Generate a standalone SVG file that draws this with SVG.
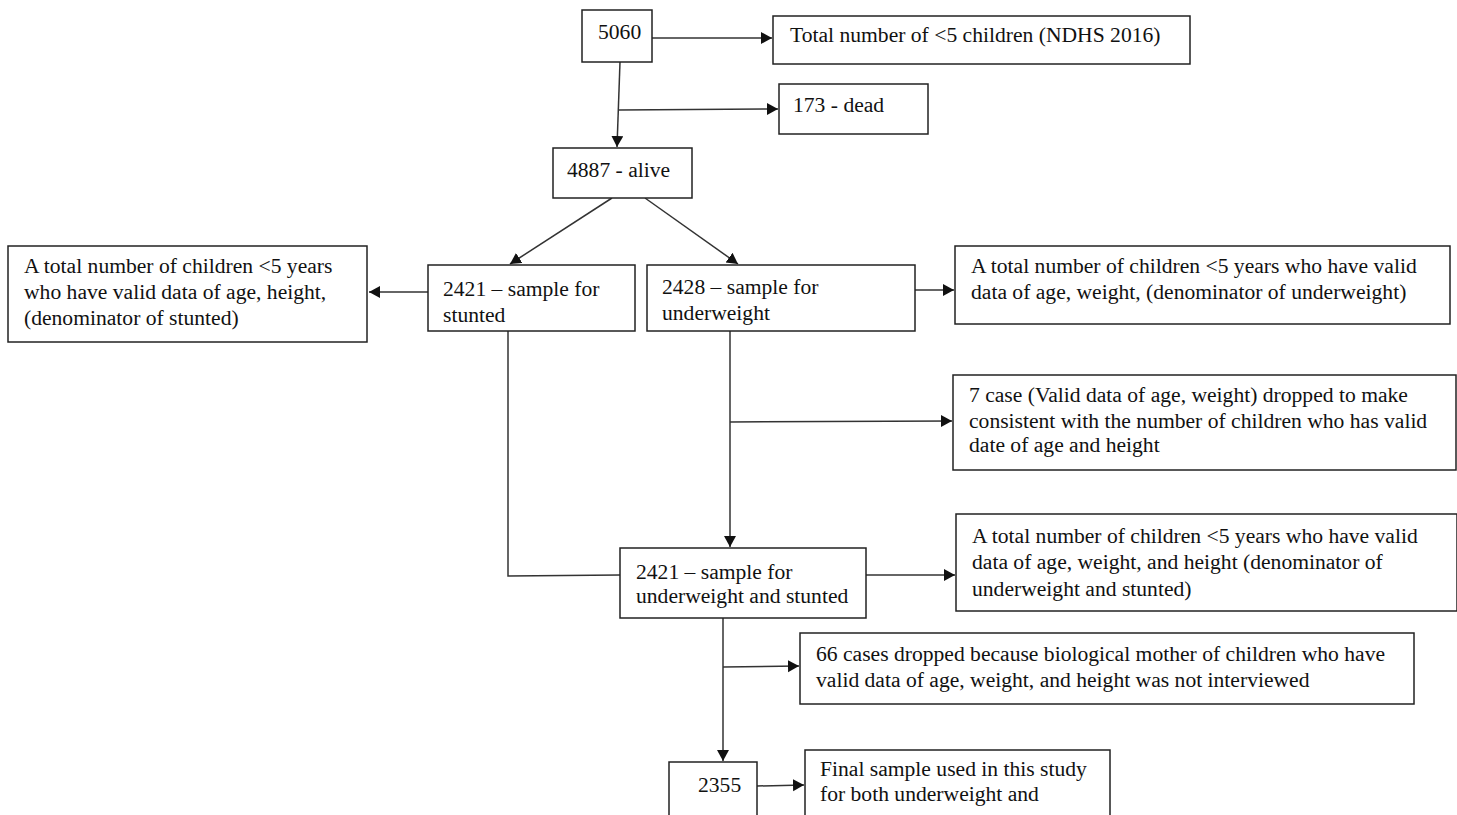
<svg xmlns="http://www.w3.org/2000/svg" width="1457" height="815" viewBox="0 0 1457 815">
<style>
.box{fill:#fff;stroke:#222;stroke-width:1.5}
.t{font-family:"Liberation Serif","Times New Roman",serif;font-size:21.6px;fill:#111}
.c{fill:none;stroke:#333;stroke-width:1.5}
</style>
<defs>
<marker id="ah" markerWidth="13" markerHeight="13" refX="11" refY="6" orient="auto" markerUnits="userSpaceOnUse">
<path d="M0,0 L11,6 L0,12 Z" fill="#111"/>
</marker>
</defs>
<rect width="1457" height="815" fill="#fff"/>
<g id="connectors">
<line class="c" x1="652" y1="38" x2="772" y2="38" marker-end="url(#ah)"/>
<line class="c" x1="620" y1="62" x2="617" y2="147" marker-end="url(#ah)"/>
<line class="c" x1="619" y1="110" x2="778" y2="109" marker-end="url(#ah)"/>
<line class="c" x1="612" y1="198" x2="510" y2="264" marker-end="url(#ah)"/>
<line class="c" x1="645" y1="198" x2="738" y2="264" marker-end="url(#ah)"/>
<line class="c" x1="428" y1="292" x2="369" y2="292" marker-end="url(#ah)"/>
<line class="c" x1="908" y1="290" x2="954" y2="290" marker-end="url(#ah)"/>
<line class="c" x1="730" y1="331" x2="730" y2="547" marker-end="url(#ah)"/>
<line class="c" x1="730" y1="422" x2="952" y2="421" marker-end="url(#ah)"/>
<polyline class="c" points="508,331 508,576 620,575"/>
<line class="c" x1="866" y1="575" x2="955" y2="575" marker-end="url(#ah)"/>
<line class="c" x1="723" y1="618" x2="723" y2="761" marker-end="url(#ah)"/>
<line class="c" x1="723" y1="667" x2="799" y2="666" marker-end="url(#ah)"/>
<line class="c" x1="757" y1="786" x2="804" y2="785" marker-end="url(#ah)"/>
</g>
<g id="n5060"><rect class="box" x="582" y="10" width="70" height="52"/><text class="t" x="598" y="39">5060</text></g>
<g id="ntotal"><rect class="box" x="773" y="16" width="417" height="48"/><text class="t" x="790" y="42">Total number of &lt;5 children (NDHS 2016)</text></g>
<g id="ndead"><rect class="box" x="779" y="84" width="149" height="50"/><text class="t" x="793" y="112">173 - dead</text></g>
<g id="nalive"><rect class="box" x="553" y="148" width="139" height="50"/><text class="t" x="567" y="177">4887 - alive</text></g>
<g id="nstunted"><rect class="box" x="428" y="265" width="207" height="66"/><text class="t" x="443" y="296">2421 – sample for</text><text class="t" x="443" y="322">stunted</text></g>
<g id="nstuntedden"><rect class="box" x="8" y="246" width="359" height="96"/><text class="t" x="24" y="273">A total number of children &lt;5 years</text><text class="t" x="24" y="299">who have valid data of age, height,</text><text class="t" x="24" y="325">(denominator of stunted)</text></g>
<g id="nunder"><rect class="box" x="647" y="265" width="268" height="66"/><text class="t" x="662" y="294">2428 – sample for</text><text class="t" x="662" y="320">underweight</text></g>
<g id="nunderden"><rect class="box" x="955" y="246" width="495" height="78"/><text class="t" x="971" y="273">A total number of children &lt;5 years who have valid</text><text class="t" x="971" y="299">data of age, weight, (denominator of underweight)</text></g>
<g id="ndrop7"><rect class="box" x="953" y="375" width="503" height="95"/><text class="t" x="969" y="402">7 case (Valid data of age, weight) dropped to make</text><text class="t" x="969" y="428">consistent with the number of children who has valid</text><text class="t" x="969" y="452">date of age and height</text></g>
<g id="ncombined"><rect class="box" x="620" y="548" width="246" height="70"/><text class="t" x="636" y="579">2421 – sample for</text><text class="t" x="636" y="603">underweight and stunted</text></g>
<g id="ncombinedden"><rect class="box" x="956" y="514" width="501" height="97"/><text class="t" x="972" y="543">A total number of children &lt;5 years who have valid</text><text class="t" x="972" y="569">data of age, weight, and height (denominator of</text><text class="t" x="972" y="596">underweight and stunted)</text></g>
<g id="ndrop66"><rect class="box" x="800" y="633" width="614" height="71"/><text class="t" x="816" y="661">66 cases dropped because biological mother of children who have</text><text class="t" x="816" y="687">valid data of age, weight, and height was not interviewed</text></g>
<g id="n2355"><rect class="box" x="669" y="762" width="88" height="60"/><text class="t" x="698" y="792">2355</text></g>
<g id="nfinal"><rect class="box" x="805" y="750" width="305" height="70"/><text class="t" x="820" y="776">Final sample used in this study</text><text class="t" x="820" y="801">for both underweight and</text></g>
</svg>
